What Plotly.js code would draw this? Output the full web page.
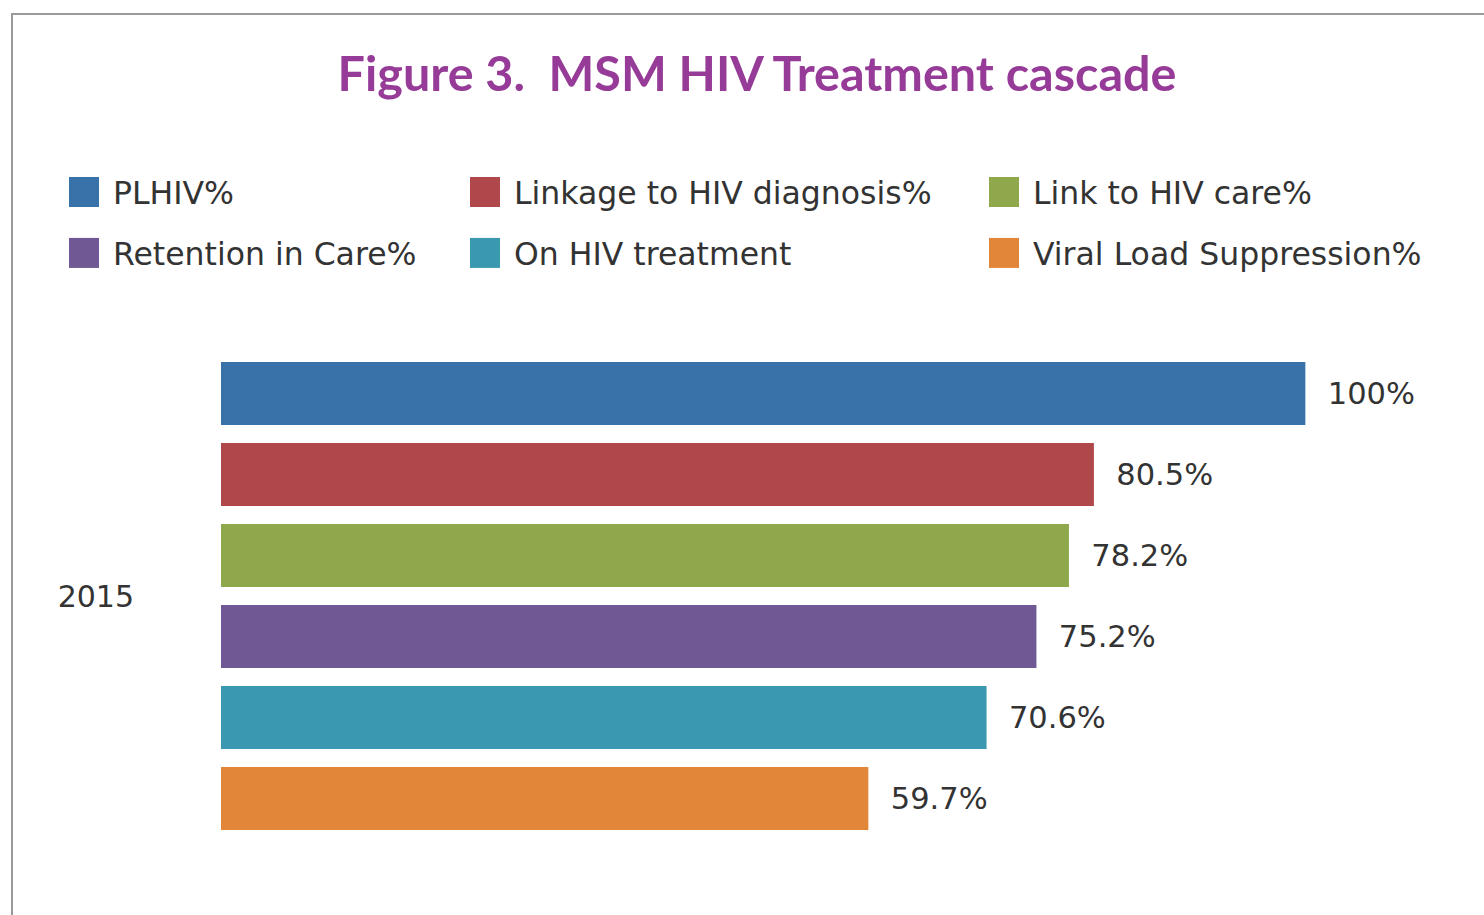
<!DOCTYPE html>
<html>
<head>
<meta charset="utf-8">
<script src="https://cdn.plot.ly/plotly-3.0.1.min.js"></script>
<style>
  html, body { margin: 0; padding: 0; background: #ffffff; }
  #chart { width: 1484px; height: 915px; }
</style>
</head>
<body>
<div id="chart"></div>
<script>
// ---- data ----
const categories = ['2015'];
const seriesNames = ['PLHIV%', 'Linkage to HIV diagnosis%', 'Link to HIV care%',
                     'Retention in Care%', 'On HIV treatment', 'Viral Load Suppression%'];
const seriesValues = [100, 80.5, 78.2, 75.2, 70.6, 59.7];
const valueLabels = ['100%', '80.5%', '78.2%', '75.2%', '70.6%', '59.7%'];
const titleText = 'Figure 3.  MSM HIV Treatment cascade';

// ---- style ----
const colors = ['#3872a9', '#b0474a', '#8fa84c', '#6f5893', '#3b98b1', '#e2873a'];
const FONT = '"DejaVu Sans", "Open Sans", sans-serif';
const TFONT = 'Lato, "Open Sans", sans-serif';
const TXT = '#333333';
const legendIds = ['legend', 'legend2', 'legend3'];

const traces = seriesNames.map((name, i) => ({
  type: 'bar',
  orientation: 'h',
  name: name,
  y: categories,
  x: [seriesValues[i]],
  text: [valueLabels[i]],
  texttemplate: '\u00a0\u00a0%{text}',
  textposition: 'outside',
  constraintext: 'none',
  cliponaxis: false,
  textfont: { family: FONT, size: 30.5, color: TXT },
  outsidetextfont: { family: FONT, size: 30.5, color: TXT },
  marker: { color: colors[i], line: { width: 0 } },
  legend: legendIds[i % 3],
  legendgroup: 'g' + i,
  hoverinfo: 'name+x'
}));

const M = { l: 221, r: 16, t: 353, b: 76 };
const W = 1484 - M.l - M.r, H = 915 - M.t - M.b;
const px2x = px => (px - M.l) / W;
const py2y = py => (915 - M.b - py) / H;

const legendBase = {
  orientation: 'v',
  xanchor: 'left',
  yanchor: 'top',
  y: py2y(165),
  bgcolor: 'rgba(0,0,0,0)',
  borderwidth: 0,
  font: { family: FONT, size: 31.5, color: TXT },
  itemwidth: 48,
  traceorder: 'grouped',
  tracegroupgap: 17,
  itemclick: false,
  itemdoubleclick: false
};

const layout = {
  width: 1484,
  height: 915,
  margin: M,
  paper_bgcolor: '#ffffff',
  plot_bgcolor: 'rgba(0,0,0,0)',
  font: { family: FONT, color: TXT },
  title: {
    text: titleText,
    font: { family: TFONT, size: 48.5, color: '#963c98', weight: 'bold' },
    xref: 'container', yref: 'container',
    x: 757 / 1484, y: 1 - 74 / 915,
    xanchor: 'center', yanchor: 'middle'
  },
  barmode: 'group',
  bargap: 0,
  bargroupgap: 0.222,
  xaxis: {
    range: [0, 115],
    visible: false,
    showgrid: false,
    zeroline: false,
    fixedrange: true
  },
  yaxis: {
    type: 'category',
    range: [0.5, -0.5],
    showgrid: false,
    zeroline: false,
    showline: false,
    ticks: '',
    ticklabelstandoff: 86,
    tickfont: { family: FONT, size: 30, color: TXT },
    fixedrange: true
  },
  showlegend: true,
  legend:  Object.assign({}, legendBase, { x: px2x(55) }),
  legend2: Object.assign({}, legendBase, { x: px2x(456) }),
  legend3: Object.assign({}, legendBase, { x: px2x(975) }),
  shapes: [{
    type: 'rect', xref: 'paper', yref: 'paper',
    x0: px2x(12), x1: px2x(1500), y0: py2y(930), y1: py2y(14),
    line: { color: '#9a9a9a', width: 2 },
    fillcolor: 'rgba(0,0,0,0)',
    layer: 'below'
  }]
};

Plotly.newPlot('chart', traces, layout, { displayModeBar: false })
  .then(gd => {
    gd.querySelectorAll('.legendpoints path').forEach(p => {
      p.setAttribute('d', 'M15,15H-15V-15H15Z');
    });
  });
</script>
</body>
</html>
